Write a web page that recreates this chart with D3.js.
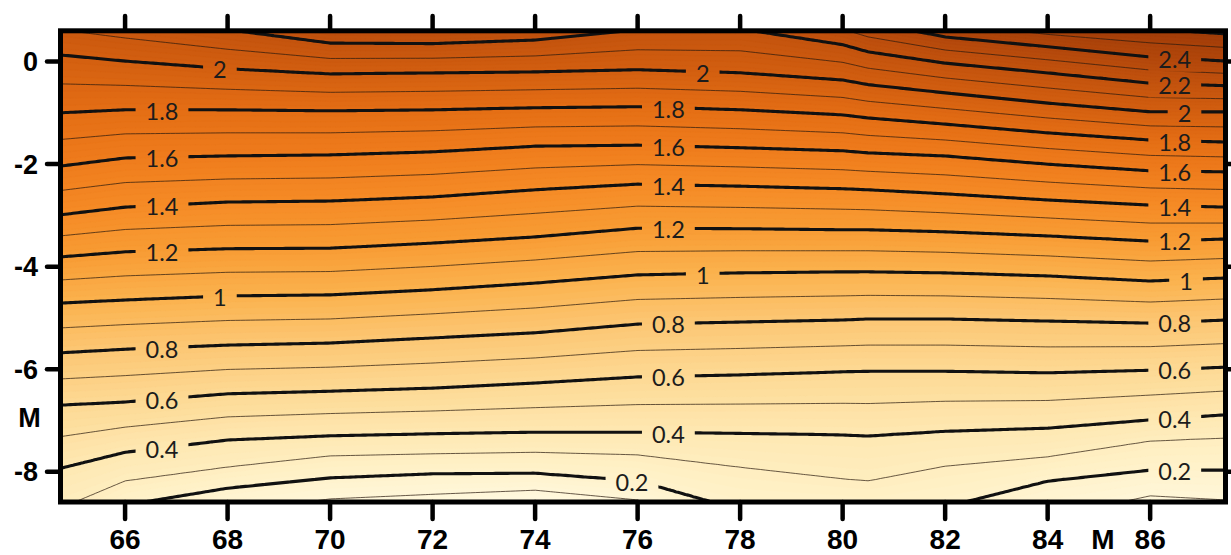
<!DOCTYPE html>
<html><head><meta charset="utf-8">
<script src="https://cdn.jsdelivr.net/npm/d3@7"></script>
<style>
html,body{margin:0;padding:0;background:#fff;}
svg{display:block;}
</style></head>
<body>
<svg id="chart" width="1231" height="555"></svg>
<script>
// ---------------- data ----------------
// x positions of the columns where each contour line depth was read
const xCols = [64.74, 66, 68, 70, 72, 74, 76, 78, 80, 80.5, 82, 84, 86, 87.47];
const xTicks = [66, 68, 70, 72, 74, 76, 78, 80, 82, 84, 86];
const yTicks = [0, -2, -4, -6, -8];
const levels = [0.1, 0.2, 0.3, 0.4, 0.6, 0.8, 1.0, 1.2, 1.4, 1.6, 1.8, 2.0, 2.2, 2.4, 2.6];
// depth (y value) of each contour level at every column of xCols
const lv01 = [-9.92, -9.14, -8.79, -8.53, -8.44, -8.36, -8.55, -9.24, -9.43, -9.49, -9.33, -8.90, -8.47, -8.55];
const lv02 = [-9.33, -8.65, -8.32, -8.12, -8.04, -8.03, -8.18, -8.75, -8.79, -8.84, -8.69, -8.18, -7.97, -7.97];
const lv03 = [-8.71, -8.18, -7.91, -7.69, -7.65, -7.62, -7.67, -7.91, -8.14, -8.18, -7.89, -7.71, -7.40, -7.34];
const lv04 = [-7.93, -7.62, -7.38, -7.30, -7.26, -7.23, -7.23, -7.25, -7.28, -7.30, -7.21, -7.15, -6.99, -6.89];
const lv06 = [-6.70, -6.64, -6.48, -6.43, -6.37, -6.27, -6.15, -6.11, -6.05, -6.04, -6.04, -6.07, -6.02, -5.96];
const lv08 = [-5.68, -5.61, -5.53, -5.49, -5.39, -5.29, -5.12, -5.08, -5.04, -5.02, -5.02, -5.06, -5.10, -5.04];
const lv10 = [-4.71, -4.65, -4.57, -4.55, -4.45, -4.32, -4.16, -4.12, -4.10, -4.10, -4.12, -4.18, -4.28, -4.22];
const lv12 = [-3.81, -3.71, -3.65, -3.64, -3.54, -3.42, -3.25, -3.26, -3.28, -3.28, -3.32, -3.40, -3.50, -3.46];
const lv14 = [-2.99, -2.84, -2.74, -2.72, -2.64, -2.50, -2.39, -2.43, -2.48, -2.50, -2.58, -2.70, -2.80, -2.84];
const lv16 = [-2.04, -1.88, -1.84, -1.82, -1.76, -1.65, -1.63, -1.68, -1.74, -1.78, -1.84, -2.00, -2.13, -2.15];
const lv18 = [-1.00, -0.94, -0.94, -0.96, -0.94, -0.90, -0.88, -0.94, -1.04, -1.10, -1.22, -1.39, -1.53, -1.57];
const lv20 = [0.13, 0.01, -0.14, -0.24, -0.22, -0.20, -0.16, -0.22, -0.36, -0.45, -0.61, -0.81, -0.98, -0.98];
const lv22 = [1.11, 0.91, 0.62, 0.36, 0.35, 0.42, 0.62, 0.64, 0.33, 0.19, -0.03, -0.22, -0.42, -0.47];
const lv24 = [2.18, 2.00, 1.69, 0.97, 0.93, 1.05, 1.30, 1.30, 0.93, 0.77, 0.48, 0.29, 0.09, 0.01];
const lv26 = [3.35, 3.16, 2.76, 1.59, 1.56, 1.69, 1.98, 1.98, 1.59, 1.40, 1.01, 0.77, 0.64, 0.54];
const contourDepths = [lv01, lv02, lv03, lv04, lv06, lv08, lv10, lv12, lv14, lv16, lv18, lv20, lv22, lv24, lv26];

const majorLevels = [0.2, 0.4, 0.6, 0.8, 1.0, 1.2, 1.4, 1.6, 1.8, 2.0, 2.2, 2.4, 2.6];
const minorLevels = [0.1, 0.3, 0.5, 0.7, 0.9, 1.1, 1.3, 1.5, 1.7, 1.9, 2.1, 2.3, 2.5];
// contour labels: [level, x]
const labelSpots = [
  [2, 67.85], [1.8, 66.72], [1.6, 66.72], [1.4, 66.72], [1.2, 66.72], [1, 67.85], [0.8, 66.72], [0.6, 66.72], [0.4, 66.72],
  [2, 77.27], [1.8, 76.6], [1.6, 76.6], [1.4, 76.6], [1.2, 76.6], [1, 77.27], [0.8, 76.6], [0.6, 76.6], [0.4, 76.6], [0.2, 75.89],
  [2.4, 86.48], [2.2, 86.48], [2, 86.67], [1.8, 86.48], [1.6, 86.48], [1.4, 86.48], [1.2, 86.48], [1, 86.7], [0.8, 86.48], [0.6, 86.48], [0.4, 86.48], [0.2, 86.48]
];

// ---------------- styles ----------------
const colorStops = [0.0, 0.2, 0.4, 0.6, 0.8, 1.0, 1.2, 1.4, 1.6, 1.8, 2.0, 2.2, 2.4, 2.6, 2.8];
const colorRange = ['#fffae4', '#fff3cc', '#fee8b2', '#fdd994', '#fcc774', '#fbb24e', '#f89c34', '#f58b26', '#ef7c1c', '#e46e15', '#d35f10', '#c3530e', '#b2470b', '#a03c08', '#8e3306'];

const W = 1231, H = 555;
const frame = {left: 60.5, right: 1225.5, top: 30.8, bottom: 502};
const x = d3.scaleLinear().domain([64.74, 87.47]).range([frame.left, frame.right]);
const y = d3.scaleLinear().domain([-8.59, 0.60]).range([frame.bottom, frame.top]);
const color = d3.scaleLinear().domain(colorStops).range(colorRange).interpolate(d3.interpolateRgb).clamp(true);

// contour level depth as a function of x (piecewise through the columns)
const levelScales = contourDepths.map(arr => d3.scaleLinear().domain(xCols).range(arr));

// build value grid
const step = 2.5;
const nx = Math.round((frame.right - frame.left) / step) + 1;
const ny = Math.round((frame.bottom - frame.top) / step) + 1;
const sx = (frame.right - frame.left) / (nx - 1), sy = (frame.bottom - frame.top) / (ny - 1);
const values = new Float64Array(nx * ny);
for (let i = 0; i < nx; i++) {
  const xv = x.invert(frame.left + i * sx);
  const depths = levelScales.map(s => s(xv));
  const vs = d3.scaleLinear().domain(depths).range(levels);
  for (let j = 0; j < ny; j++) {
    const yv = y.invert(frame.top + j * sy);
    values[j * nx + i] = vs(yv);
  }
}

const svg = d3.select('#chart');
const defs = svg.append('defs');
defs.append('clipPath').attr('id', 'clip').append('rect')
  .attr('x', frame.left).attr('y', frame.top)
  .attr('width', frame.right - frame.left).attr('height', frame.bottom - frame.top);
const mask = defs.append('mask').attr('id', 'gap').attr('maskUnits', 'userSpaceOnUse')
  .attr('x', 0).attr('y', 0).attr('width', W).attr('height', H);
mask.append('rect').attr('width', W).attr('height', H).attr('fill', '#fff');

const proj = d3.geoTransform({
  point(cx, cy) { this.stream.point(frame.left + (cx - 0.5) * sx, frame.top + (cy - 0.5) * sy); }
});
const path = d3.geoPath(proj);

// filled colour (fine bands for a smooth look)
const fillTh = d3.range(-0.4, 2.95, 0.025);
const fillG = svg.append('g').attr('clip-path', 'url(#clip)');
fillG.append('rect').attr('x', frame.left).attr('y', frame.top)
  .attr('width', frame.right - frame.left).attr('height', frame.bottom - frame.top)
  .attr('fill', color(-0.4));
const fills = d3.contours().size([nx, ny]).thresholds(fillTh)(values);
fillG.selectAll('path').data(fills).join('path')
  .attr('d', path)
  .attr('fill', d => color(d.value + 0.0125))
  .attr('stroke', d => color(d.value + 0.0125)).attr('stroke-width', 0.3);

// contour lines
const lineG = svg.append('g').attr('clip-path', 'url(#clip)').append('g').attr('mask', 'url(#gap)');
const minors = d3.contours().size([nx, ny]).thresholds(minorLevels)(values);
lineG.append('g').selectAll('path').data(minors).join('path')
  .attr('d', path).attr('fill', 'none')
  .attr('stroke', '#2a1a10').attr('stroke-opacity', 0.8).attr('stroke-width', 0.9);
const majors = d3.contours().size([nx, ny]).thresholds(majorLevels)(values);
lineG.append('g').selectAll('path').data(majors).join('path')
  .attr('d', path).attr('fill', 'none')
  .attr('stroke', '#111').attr('stroke-width', 3.1).attr('stroke-linejoin', 'round');

// contour labels
const labG = svg.append('g');
labelSpots.forEach(([v, lx]) => {
  const s = levelScales[levels.indexOf(v)];
  const px = x(lx), py = y(s(lx)) + 1.5;
  const t = labG.append('text')
    .attr('x', px).attr('y', py).attr('dy', '0.36em')
    .attr('text-anchor', 'middle')
    .attr('font-family', 'Lato, "Open Sans", sans-serif')
    .attr('font-size', 23.5).attr('fill', '#1c1c1c')
    .text(String(v));
  const w = t.node().getComputedTextLength();
  mask.append('rect').attr('x', px - w / 2 - 10).attr('y', py - 12)
    .attr('width', w + 20).attr('height', 24).attr('fill', '#000');
});

// frame
svg.append('rect').attr('x', frame.left).attr('y', frame.top)
  .attr('width', frame.right - frame.left).attr('height', frame.bottom - frame.top)
  .attr('fill', 'none').attr('stroke', '#000').attr('stroke-width', 5);

// ticks
const tickG = svg.append('g').attr('stroke', '#000').attr('stroke-width', 4.5).attr('stroke-linecap', 'round');
xTicks.forEach(t => {
  tickG.append('line').attr('x1', x(t)).attr('x2', x(t)).attr('y1', 16).attr('y2', frame.top);
  tickG.append('line').attr('x1', x(t)).attr('x2', x(t)).attr('y1', frame.bottom).attr('y2', 519);
});
yTicks.forEach(t => {
  tickG.append('line').attr('x1', 47).attr('x2', frame.left).attr('y1', y(t)).attr('y2', y(t));
  tickG.append('line').attr('x1', frame.right).attr('x2', 1236).attr('y1', y(t)).attr('y2', y(t));
});

// tick labels
const font = '"Liberation Sans", Arial, sans-serif';
svg.append('g').selectAll('text').data(xTicks).join('text')
  .attr('x', d => x(d)).attr('y', 549).attr('text-anchor', 'middle')
  .attr('font-family', font).attr('font-weight', 'bold').attr('font-size', 28)
  .text(d => d);
svg.append('g').selectAll('text').data(yTicks).join('text')
  .attr('x', 38).attr('y', d => y(d)).attr('dy', '0.36em').attr('text-anchor', 'end')
  .attr('font-family', font).attr('font-weight', 'bold').attr('font-size', 27)
  .text(d => String(d));
svg.append('text').attr('x', 29.5).attr('y', 427).attr('text-anchor', 'middle')
  .attr('font-family', font).attr('font-weight', 'bold').attr('font-size', 27).text('M');
svg.append('text').attr('x', 1103).attr('y', 549).attr('text-anchor', 'middle')
  .attr('font-family', font).attr('font-weight', 'bold').attr('font-size', 28).text('M');
</script>
</body></html>
